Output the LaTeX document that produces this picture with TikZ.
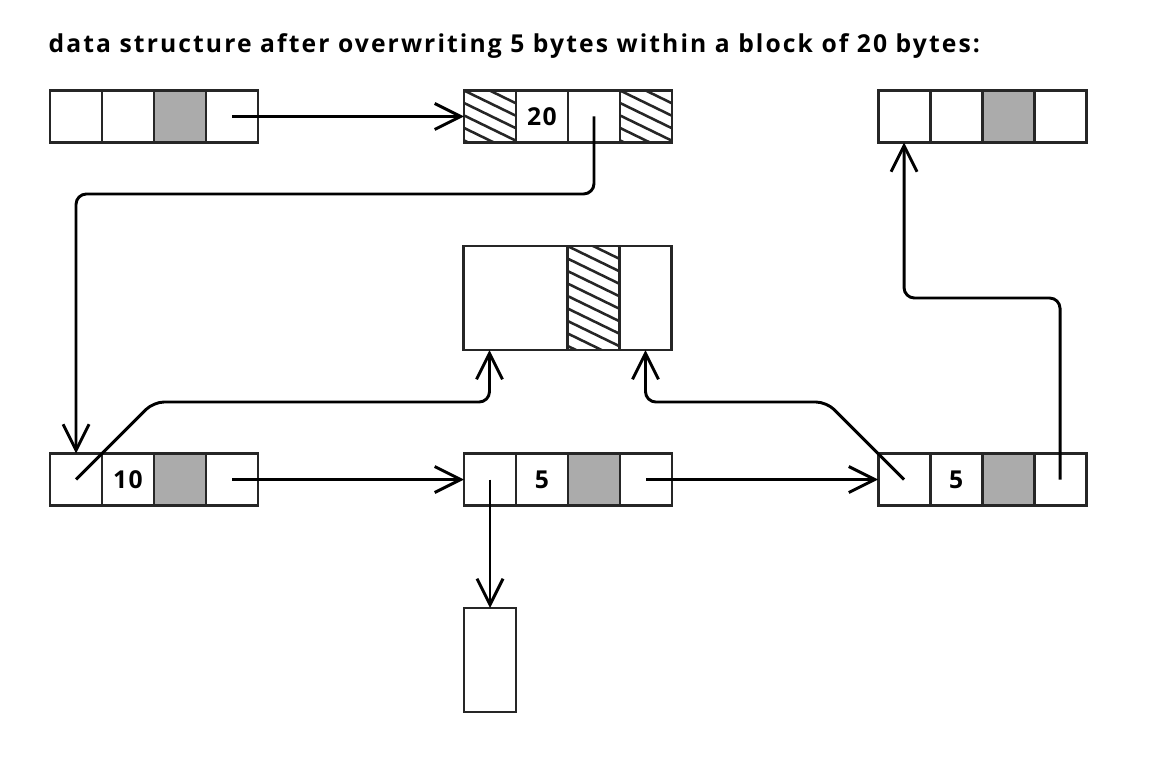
\documentclass[tikz,border=0pt]{standalone}
\usepackage{fontspec}
\setmainfont{Open Sans}
\usepackage{xcolor}
\usepackage{tikz}
\usetikzlibrary{positioning,arrows.meta}

\begin{document}
\begin{tikzpicture}[
    cell/.style={draw=black!85, line width=1.6pt, minimum width=1cm, minimum height=1cm, inner sep=0pt, outer sep=0pt, font=\fontsize{13.5}{15}\selectfont\bfseries\addfontfeatures{LetterSpace=6}},
    used/.style={cell, fill=black!33},
    freed/.style={cell, path picture={\foreach \k in {-9,...,2} \draw[line width=1.4pt, black!85] ([yshift=\k*0.24cm]path picture bounding box.north west) -- ++(3,-1.46);}},
    ptr/.style={line width=1.6pt, rounded corners=0.2cm, -{Straight Barb[length=0.5cm, width=0.5cm]}}
]
                \useasboundingbox (0,0) rectangle (22.442,-14.885);
                \node[anchor=base west, inner sep=0pt, font=\fontsize{13.5}{15}\selectfont\bfseries\addfontfeatures{LetterSpace=8.5}] (title) at (0.93,-1.0) {data structure after overwriting 5 bytes within a block of 20 bytes:};
                \node[cell] (a1) at (1.462,-2.24) {};
                \node[cell, right=0pt of a1] (a2) {};
                \node[used, right=0pt of a2] (a3) {};
                \node[cell, right=0pt of a3] (a4) {};
                \node[freed] (b1) at (9.423,-2.24) {};
                \node[cell, right=0pt of b1] (b2) {20};
                \node[cell, right=0pt of b2] (b3) {};
                \node[freed, right=0pt of b3] (b4) {};
                \node[cell] (g1) at (17.385,-2.24) {};
                \node[cell, right=0pt of g1] (g2) {};
                \node[used, right=0pt of g2] (g3) {};
                \node[cell, right=0pt of g3] (g4) {};
                \node[cell, minimum width=2cm, minimum height=2cm] (c1) at (9.913,-5.731) {};
                \node[freed, minimum height=2cm, right=0pt of c1] (c2) {};
                \node[cell, minimum height=2cm, right=0pt of c2] (c3) {};
                \node[cell] (d1) at (1.462,-9.221) {};
                \node[cell, right=0pt of d1] (d2) {10};
                \node[used, right=0pt of d2] (d3) {};
                \node[cell, right=0pt of d3] (d4) {};
                \node[cell] (e1) at (9.423,-9.221) {};
                \node[cell, right=0pt of e1] (e2) {5};
                \node[used, right=0pt of e2] (e3) {};
                \node[cell, right=0pt of e3] (e4) {};
                \node[cell] (f1) at (17.385,-9.221) {};
                \node[cell, right=0pt of f1] (f2) {5};
                \node[used, right=0pt of f2] (f3) {};
                \node[cell, right=0pt of f3] (f4) {};
                \node[cell, minimum height=2cm] (h) at (9.423,-12.692) {};
                \draw[ptr] (a4.center) -- (b1.west);
                \draw[ptr] (b3.center) -- ++(0,-1.49) -| (d1.north);
                \draw[ptr] (d1.center) -- ++(1.49,1.49) -| ([xshift=0.5cm]c1.south west);
                \draw[ptr] (d4.center) -- (e1.west);
                \draw[ptr] (e1.center) -- (h.north);
                \draw[ptr] (e4.center) -- (f1.west);
                \draw[ptr] (f1.center) -- ++(-1.49,1.49) -| (c3.south);
                \draw[ptr] (f4.center) -- ++(0,3.49) -| (g1.south);
\end{tikzpicture}
\end{document}
